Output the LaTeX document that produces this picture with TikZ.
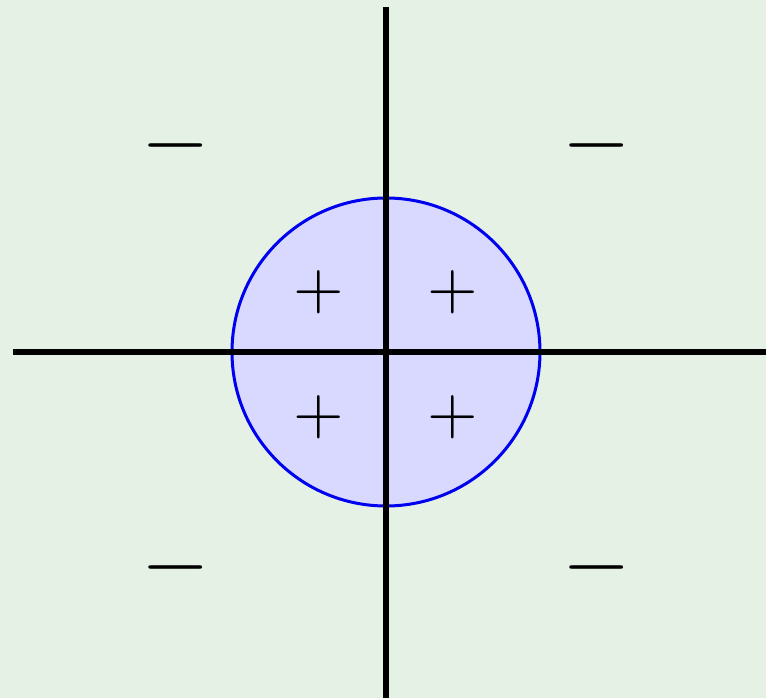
\documentclass[tikz,border=0pt]{standalone}
\usepackage{tikz}
\usetikzlibrary{positioning}
\definecolor{bgGreen}{RGB}{230,241,230}
\definecolor{discFill}{RGB}{217,217,255}
\definecolor{discBlue}{RGB}{0,0,240}

\begin{document}
\begin{tikzpicture}[
  x=1pt, y=1pt,
  axis/.style={line width=6pt, draw=black},
  disc/.style={circle, draw=discBlue, fill=discFill, line width=3pt,
               minimum size=308pt, inner sep=0pt},
  plussign/.style={scale=6.5, inner sep=0pt},
  minussign/.style={scale=8.8, inner sep=0pt},
]

%% Background
\fill[bgGreen] (-386,-346) rectangle (380,352);
\useasboundingbox (-386,-346) rectangle (380,352);

%% Disc
\node[disc] (disc) at (0,0) {};

%% Axes
\coordinate (top)   at (0,345);
\coordinate (bot)   at (0,-346);
\coordinate (west)  at (-373,0);
\coordinate (east)  at (380,0);
\draw[axis] (west) -- (east);
\draw[axis] (bot) -- (top);

%% Signs inside
\node[plussign] (pNW) at (-67,60)  {$+$};
\node[plussign] (pNE) at (67,60)   {$+$};
\node[plussign] (pSW) at (-67,-65) {$+$};
\node[plussign] (pSE) at (67,-65)  {$+$};

%% Signs outside
\node[minussign] (mNW) at (-210,206.5) {$-$};
\node[minussign] (mNE) at (211,206.5)  {$-$};
\node[minussign] (mSW) at (-210,-215)  {$-$};
\node[minussign] (mSE) at (211,-215)   {$-$};
\end{tikzpicture}
\end{document}
